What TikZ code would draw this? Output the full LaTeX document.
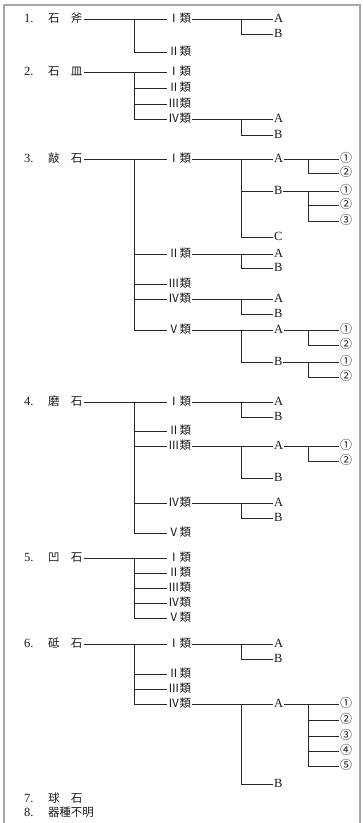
\documentclass[tikz,border=0pt]{standalone}
\usepackage{fontspec}
\setmainfont{Liberation Serif}
\newfontfamily\jp{Noto Sans CJK JP}
\begin{document}
\begin{tikzpicture}[x=1pt,y=-1pt,
  base/.style={inner sep=0.8pt, text height=8.5pt, text depth=2pt, font=\fontsize{11.5}{12}\selectfont, text=black!90},
  cat/.style={base, anchor=west},
  cls/.style={base, anchor=east},
  sub/.style={base, anchor=west, font=\fontsize{12.5}{13}\selectfont},
  num/.style={base, anchor=west, font=\fontsize{12}{13}\selectfont},
  conn/.style={line width=0.75pt, black!85},
  frame/.style={line width=1.1pt, black!35}]
\useasboundingbox (0,0) rectangle (362,823);
\draw[frame] (4,823) -- (4,5) -- (360,5) -- (360,823);
\coordinate (T) at (134,0);
\coordinate (S) at (241,0);
\coordinate (U) at (308,0);
\newcommand{\catlab}[2]{\makebox[24pt][l]{\fontsize{12.5}{13}\selectfont #1}{\jp #2}}
% ---------- 1
\node[cat] (c1) at (23,19) {\catlab{1.}{石　斧}};
\node[cls] (k1a) at (192,19) {\jp Ⅰ類};
\node[cls] (k1b) at (192,52) {\jp Ⅱ類};
\node[sub] (k1aA) at (273,19) {A};
\node[sub] (k1aB) at (273,34) {B};
\draw[conn] (c1.east) -- (k1a.west);
\draw[conn] (c1.east -| T) |- (k1b.west);
\draw[conn] (k1a.east) -- (k1aA.west);
\draw[conn] (k1a.east -| S) |- (k1aB.west);
% ---------- 2
\node[cat] (c2) at (23,72) {\catlab{2.}{石　皿}};
\node[cls] (k2a) at (192,72) {\jp Ⅰ類};
\node[cls] (k2b) at (192,88) {\jp Ⅱ類};
\node[cls] (k2c) at (192,104) {\jp Ⅲ類};
\node[cls] (k2d) at (192,119) {\jp Ⅳ類};
\node[sub] (k2dA) at (273,119) {A};
\node[sub] (k2dB) at (273,135) {B};
\draw[conn] (c2.east) -- (k2a.west);
\foreach \k in {k2b,k2c,k2d} \draw[conn] (c2.east -| T) |- (\k.west);
\draw[conn] (k2d.east) -- (k2dA.west);
\draw[conn] (k2d.east -| S) |- (k2dB.west);
% ---------- 3
\node[cat] (c3) at (23,159) {\catlab{3.}{敲　石}};
\node[cls] (k3a) at (192,159) {\jp Ⅰ類};
\node[cls] (k3b) at (192,254) {\jp Ⅱ類};
\node[cls] (k3c) at (192,284) {\jp Ⅲ類};
\node[cls] (k3d) at (192,299) {\jp Ⅳ類};
\node[cls] (k3e) at (192,330) {\jp Ⅴ類};
\draw[conn] (c3.east) -- (k3a.west);
\foreach \k in {k3b,k3c,k3d,k3e} \draw[conn] (c3.east -| T) |- (\k.west);
% I
\node[sub] (k3aA) at (273,159) {A};
\node[sub] (k3aB) at (273,191) {B};
\node[sub] (k3aC) at (273,237) {C};
\draw[conn] (k3a.east) -- (k3aA.west);
\foreach \k in {k3aB,k3aC} \draw[conn] (k3a.east -| S) |- (\k.west);
\node[num] (k3aA1) at (339,159) {\jp ①};
\node[num] (k3aA2) at (339,173) {\jp ②};
\draw[conn] (k3aA.east) -- (k3aA1.west);
\draw[conn] (k3aA.east -| U) |- (k3aA2.west);
\node[num] (k3aB1) at (339,191) {\jp ①};
\node[num] (k3aB2) at (339,205) {\jp ②};
\node[num] (k3aB3) at (339,221) {\jp ③};
\draw[conn] (k3aB.east) -- (k3aB1.west);
\foreach \k in {k3aB2,k3aB3} \draw[conn] (k3aB.east -| U) |- (\k.west);
% II
\node[sub] (k3bA) at (273,254) {A};
\node[sub] (k3bB) at (273,268) {B};
\draw[conn] (k3b.east) -- (k3bA.west);
\draw[conn] (k3b.east -| S) |- (k3bB.west);
% IV
\node[sub] (k3dA) at (273,299) {A};
\node[sub] (k3dB) at (273,314) {B};
\draw[conn] (k3d.east) -- (k3dA.west);
\draw[conn] (k3d.east -| S) |- (k3dB.west);
% V
\node[sub] (k3eA) at (273,330) {A};
\node[sub] (k3eB) at (273,362) {B};
\draw[conn] (k3e.east) -- (k3eA.west);
\draw[conn] (k3e.east -| S) |- (k3eB.west);
\node[num] (k3eA1) at (339,330) {\jp ①};
\node[num] (k3eA2) at (339,345) {\jp ②};
\draw[conn] (k3eA.east) -- (k3eA1.west);
\draw[conn] (k3eA.east -| U) |- (k3eA2.west);
\node[num] (k3eB1) at (339,362) {\jp ①};
\node[num] (k3eB2) at (339,377) {\jp ②};
\draw[conn] (k3eB.east) -- (k3eB1.west);
\draw[conn] (k3eB.east -| U) |- (k3eB2.west);
% ---------- 4
\node[cat] (c4) at (23,402) {\catlab{4.}{磨　石}};
\node[cls] (k4a) at (192,402) {\jp Ⅰ類};
\node[cls] (k4b) at (192,431) {\jp Ⅱ類};
\node[cls] (k4c) at (192,446) {\jp Ⅲ類};
\node[cls] (k4d) at (192,503) {\jp Ⅳ類};
\node[cls] (k4e) at (192,533) {\jp Ⅴ類};
\draw[conn] (c4.east) -- (k4a.west);
\foreach \k in {k4b,k4c,k4d,k4e} \draw[conn] (c4.east -| T) |- (\k.west);
\node[sub] (k4aA) at (273,402) {A};
\node[sub] (k4aB) at (273,417) {B};
\draw[conn] (k4a.east) -- (k4aA.west);
\draw[conn] (k4a.east -| S) |- (k4aB.west);
\node[sub] (k4cA) at (273,446) {A};
\node[sub] (k4cB) at (273,478) {B};
\draw[conn] (k4c.east) -- (k4cA.west);
\draw[conn] (k4c.east -| S) |- (k4cB.west);
\node[num] (k4cA1) at (339,446) {\jp ①};
\node[num] (k4cA2) at (339,461) {\jp ②};
\draw[conn] (k4cA.east) -- (k4cA1.west);
\draw[conn] (k4cA.east -| U) |- (k4cA2.west);
\node[sub] (k4dA) at (273,503) {A};
\node[sub] (k4dB) at (273,518) {B};
\draw[conn] (k4d.east) -- (k4dA.west);
\draw[conn] (k4d.east -| S) |- (k4dB.west);
% ---------- 5
\node[cat] (c5) at (23,558) {\catlab{5.}{凹　石}};
\node[cls] (k5a) at (192,558) {\jp Ⅰ類};
\node[cls] (k5b) at (192,573) {\jp Ⅱ類};
\node[cls] (k5c) at (192,588) {\jp Ⅲ類};
\node[cls] (k5d) at (192,603) {\jp Ⅳ類};
\node[cls] (k5e) at (192,618) {\jp Ⅴ類};
\draw[conn] (c5.east) -- (k5a.west);
\foreach \k in {k5b,k5c,k5d,k5e} \draw[conn] (c5.east -| T) |- (\k.west);
% ---------- 6
\node[cat] (c6) at (23,644) {\catlab{6.}{砥　石}};
\node[cls] (k6a) at (192,644) {\jp Ⅰ類};
\node[cls] (k6b) at (192,674) {\jp Ⅱ類};
\node[cls] (k6c) at (192,689) {\jp Ⅲ類};
\node[cls] (k6d) at (192,704) {\jp Ⅳ類};
\draw[conn] (c6.east) -- (k6a.west);
\foreach \k in {k6b,k6c,k6d} \draw[conn] (c6.east -| T) |- (\k.west);
\node[sub] (k6aA) at (273,644) {A};
\node[sub] (k6aB) at (273,659) {B};
\draw[conn] (k6a.east) -- (k6aA.west);
\draw[conn] (k6a.east -| S) |- (k6aB.west);
\node[sub] (k6dA) at (273,704) {A};
\node[sub] (k6dB) at (273,784) {B};
\draw[conn] (k6d.east) -- (k6dA.west);
\draw[conn] (k6d.east -| S) |- (k6dB.west);
\node[num] (k6dA1) at (339,704) {\jp ①};
\node[num] (k6dA2) at (339,720) {\jp ②};
\node[num] (k6dA3) at (339,736) {\jp ③};
\node[num] (k6dA4) at (339,751) {\jp ④};
\node[num] (k6dA5) at (339,766) {\jp ⑤};
\draw[conn] (k6dA.east) -- (k6dA1.west);
\foreach \k in {k6dA2,k6dA3,k6dA4,k6dA5} \draw[conn] (k6dA.east -| U) |- (\k.west);
% ---------- 7, 8
\node[cat] (c7) at (23,799) {\catlab{7.}{球　石}};
\node[cat] (c8) at (23,813) {\catlab{8.}{器種不明}};
\end{tikzpicture}
\end{document}
